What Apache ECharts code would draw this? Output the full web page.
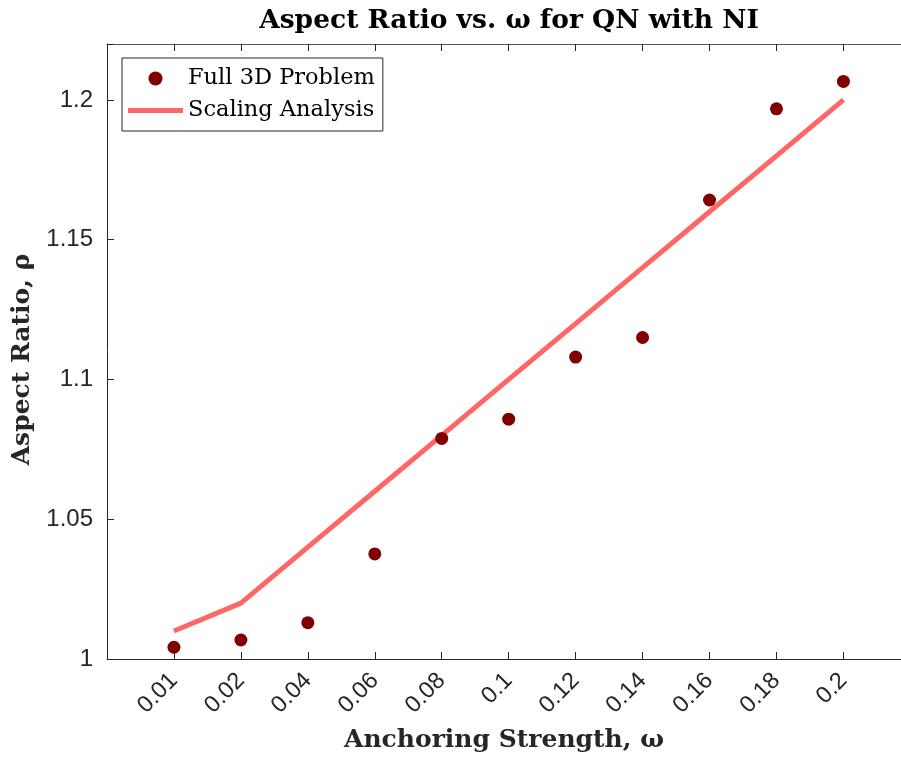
<!DOCTYPE html>
<html>
<head>
<meta charset="utf-8">
<script src="https://cdn.jsdelivr.net/npm/echarts@6/dist/echarts.min.js"></script>
<style>
html,body{margin:0;padding:0;background:#fff;}
#chart{width:901px;height:758px;}
</style>
</head>
<body>
<div id="chart"></div>
<script>
var categories = ['0.01','0.02','0.04','0.06','0.08','0.1','0.12','0.14','0.16','0.18','0.2'];
var fullValues = [1.0042,1.0068,1.0130,1.0376,1.0789,1.0858,1.1080,1.1150,1.1642,1.1968,1.2066];
var scalingValues = [1.01,1.02,1.04,1.06,1.08,1.10,1.12,1.14,1.16,1.18,1.20];
var yTicks = [1,1.05,1.1,1.15,1.2];

var fullData = fullValues.map(function(v,i){return [i+1,v];});
var scalingData = scalingValues.map(function(v,i){return [i+1,v];});

var chart = echarts.init(document.getElementById('chart'));
var serif = 'DejaVu Serif';
var sans = 'Liberation Sans';
var axisColor = '#262626';

chart.setOption({
  animation:false,
  backgroundColor:'#fff',
  graphic:[{
    type:'text', x:509, y:21,
    style:{text:'Aspect Ratio vs. \u03c9 for QN with NI', fontFamily:serif, fontWeight:'bold', fontSize:26.5, fill:'#000', textAlign:'center', textVerticalAlign:'middle'}
  }],
  grid:{left:107, top:44, bottom:98, right:0},
  legend:{
    orient:'vertical', left:122, top:58,
    itemWidth:55, itemHeight:14, itemGap:9,
    padding:[9,8,9,6],
    borderColor:axisColor, borderWidth:1, backgroundColor:'#fff',
    textStyle:{fontFamily:serif, fontSize:22.5, color:'#000'},
    data:[{name:'Full 3D Problem', icon:'circle'},{name:'Scaling Analysis', icon:'path://M0,0 L55,0 L55,5 L0,5 Z'}]
  },
  xAxis:[{
    type:'value', min:0, max:11.86, interval:1, position:'bottom',
    name:'Anchoring Strength, \u03c9', nameLocation:'middle', nameGap:69,
    nameTextStyle:{fontFamily:serif, fontWeight:'bold', fontSize:25, color:'#262626'},
    axisLine:{show:true, lineStyle:{color:axisColor, width:1}},
    axisTick:{show:true, inside:true, length:7, lineStyle:{color:axisColor}},
    splitLine:{show:false},
    axisLabel:{rotate:45, fontFamily:sans, fontSize:23.5, color:'#262626', margin:18, padding:[16,0,0,0],
      showMinLabel:false, showMaxLabel:false,
      formatter:function(v){var i=Math.round(v); return (Math.abs(v-i)<1e-6 && i>=1 && i<=categories.length)?categories[i-1]:'';}}
  },{
    type:'value', min:0, max:11.86, interval:1, position:'top',
    axisLine:{show:true, lineStyle:{color:'#555', width:1}},
    axisTick:{show:true, inside:true, length:7, lineStyle:{color:axisColor}},
    axisLabel:{show:false}, splitLine:{show:false}
  }],
  yAxis:{
    type:'value', min:1, max:1.22, interval:0.05,
    name:'Aspect Ratio, \u03c1', nameLocation:'middle', nameGap:62, nameRotate:90,
    nameTextStyle:{fontFamily:serif, fontWeight:'bold', fontSize:25, color:'#262626', padding:[0,16,0,0]},
    axisLine:{show:true, lineStyle:{color:axisColor, width:1}},
    axisTick:{show:true, inside:true, length:7, lineStyle:{color:axisColor}},
    splitLine:{show:false},
    axisLabel:{fontFamily:sans, fontSize:24, color:'#262626', margin:14,
      formatter:function(v){for(var k=0;k<yTicks.length;k++){if(Math.abs(v-yTicks[k])<1e-6)return String(yTicks[k]);}return '';}}
  },
  series:[{
    name:'Full 3D Problem', type:'scatter', xAxisIndex:0,
    symbol:'circle', symbolSize:13,
    itemStyle:{color:'#800000', opacity:1},
    data:fullData, z:3
  },{
    name:'Scaling Analysis', type:'line', xAxisIndex:0,
    showSymbol:false, symbol:'none',
    lineStyle:{color:'#ff6666', width:5},
    itemStyle:{color:'#ff6666'},
    data:scalingData, z:2
  }]
});
</script>
</body>
</html>
